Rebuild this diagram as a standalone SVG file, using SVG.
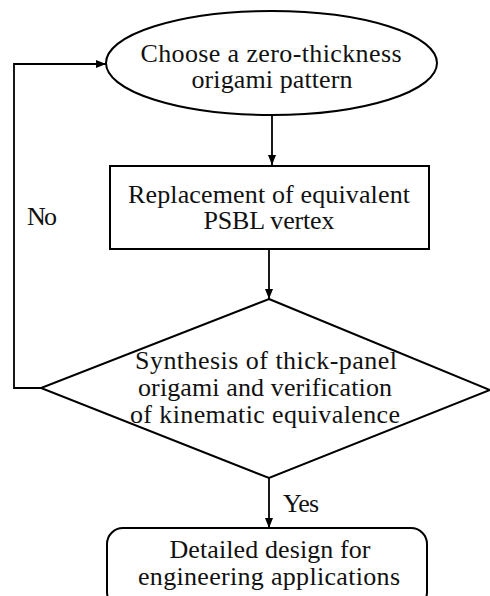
<svg xmlns="http://www.w3.org/2000/svg" width="490" height="596" viewBox="0 0 490 596">
<defs>
<style>
.shape{fill:#fff;stroke:#000;stroke-width:2}
.edge{fill:none;stroke:#000;stroke-width:1.8}
text{font-family:"Liberation Serif","Times New Roman",serif;font-size:26px;fill:#111}
.c{text-anchor:middle}
</style>
<marker id="ah" markerUnits="userSpaceOnUse" markerWidth="10" markerHeight="8" refX="10" refY="4" orient="auto">
<path d="M0,0 L10,4 L0,8 Z" fill="#000"/>
</marker>
</defs>
<rect width="490" height="596" fill="#fff"/>
<g id="connectors">
<path class="edge" d="M272,115 V165" marker-end="url(#ah)"/>
<path class="edge" d="M269,249 V299" marker-end="url(#ah)"/>
<path class="edge" d="M269,478 V528" marker-end="url(#ah)"/>
<path class="edge" d="M41,388 H14 V64 H106" marker-end="url(#ah)"/>
<text x="27" y="225" textLength="30">No</text>
<text x="283" y="512" textLength="36">Yes</text>
</g>
<g id="start">
<ellipse class="shape" cx="271.5" cy="63" rx="165.5" ry="52"/>
<text class="c" x="271" y="62" textLength="261">Choose a zero-thickness</text>
<text class="c" x="272" y="88" textLength="161">origami pattern</text>
</g>
<g id="replace">
<rect class="shape" x="110" y="166" width="319" height="83"/>
<text class="c" x="269" y="203" textLength="282">Replacement of equivalent</text>
<text class="c" x="269" y="229" textLength="131">PSBL vertex</text>
</g>
<g id="decision">
<polygon class="shape" points="269,299 490,390 269,478 41,388"/>
<text class="c" x="266" y="369" textLength="262">Synthesis of thick-panel</text>
<text class="c" x="265" y="396" textLength="254">origami and verification</text>
<text class="c" x="265" y="423" textLength="270">of kinematic equivalence</text>
</g>
<g id="design">
<rect class="shape" x="107" y="528" width="320" height="80" rx="16" ry="16"/>
<text class="c" x="270" y="558" textLength="201">Detailed design for</text>
<text class="c" x="269" y="585" textLength="262">engineering applications</text>
</g>
</svg>
